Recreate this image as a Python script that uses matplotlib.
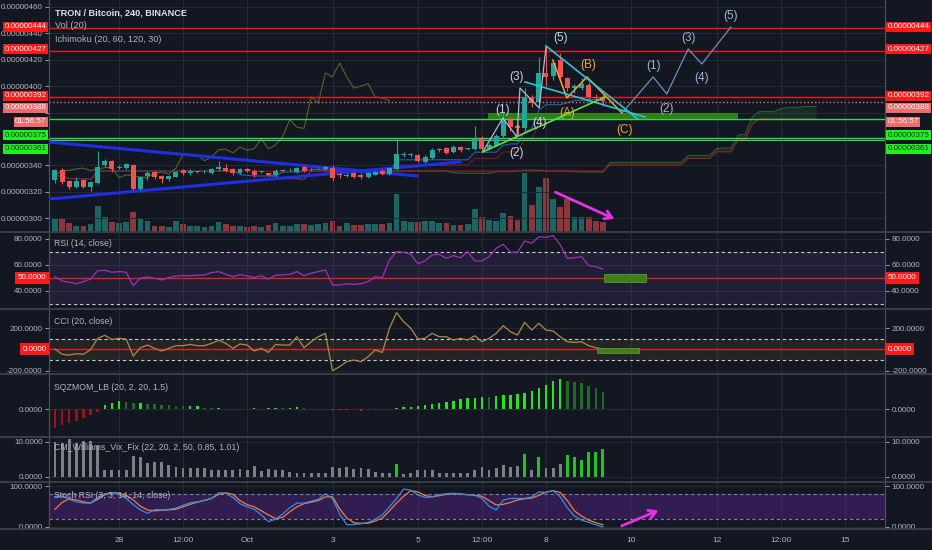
import numpy as np
import pandas as pd
import matplotlib
matplotlib.use("Agg")
import matplotlib.pyplot as plt
import matplotlib.dates as mdates
import matplotlib.transforms as mtransforms
from matplotlib.lines import Line2D
from matplotlib.patches import Rectangle

plt.rcParams['font.family'] = ['Liberation Sans', 'DejaVu Sans']

# ---- TRX/BTC 4h candles, prices in 1e-8 BTC (satoshi) ----
opens = [329, 336.5, 328, 324, 329, 323.5, 327, 340, 343, 338,
         338, 340, 322, 332, 335, 332, 329.5, 331.5, 336.5, 334,
         335, 335.5, 334, 337, 338, 337, 334, 337, 336, 335,
         334, 332.7, 336, 337, 335, 338.5, 337, 338, 337.5, 338,
         333, 332, 334, 333, 331, 333, 336, 333.5, 337, 348,
         348, 348, 342.5, 345.5, 351.5, 353, 350, 354, 352.5, 352.5,
         360, 352.5, 355, 362, 374.5, 369.5, 368.5, 391, 388, 410,
         408, 420, 406, 399, 399, 401, 392, 392]
highs = [337.5, 338, 329, 331, 330, 328.5, 351, 345, 344, 340,
         342, 341, 332, 336, 336, 333, 333, 336, 337.5, 337,
         336, 336.5, 338, 343, 341, 338, 338, 338, 337, 336,
         334.5, 337, 337, 338, 339, 339.5, 338, 339, 339.5, 340,
         334, 334, 335, 334, 335, 336, 337, 339, 360, 350,
         349.5, 349, 347.5, 353, 353.5, 354, 355.5, 355, 353.5, 370,
         362, 357, 364, 380, 377, 371, 398.6, 393, 422, 430,
         420, 425, 407, 402, 406, 403, 394, 393]
lows = [327, 326, 322, 323, 322.5, 320.5, 326, 339, 335, 337,
        337, 321, 321, 329, 330, 327, 328, 331, 333, 333,
        334, 334.5, 333.5, 336, 335, 333, 333.5, 335, 331, 334,
        332, 332, 335, 336, 334.5, 335, 336, 337, 336.5, 328.5,
        330.5, 331, 330.5, 330, 330.5, 332.5, 332.5, 333, 336.5, 346,
        346.5, 342.5, 342, 345, 350.5, 348.5, 349.5, 350.5, 351.5, 352,
        350, 352, 354.5, 361, 366, 362, 366, 384, 386, 400,
        405, 404, 396, 395, 397, 389, 389, 385]
closes = [336.5, 327.5, 324, 328, 323.5, 327.5, 339, 343, 337, 339,
          341, 322, 331, 334, 331, 329.5, 332, 335, 334, 336,
          335.2, 335.7, 337, 338.5, 336, 334, 337, 336, 332.7, 335.3,
          332.7, 336, 336.3, 337.3, 338, 336, 337.3, 338.3, 338.5, 330.7,
          332.8, 332.3, 331, 331, 334, 335, 333.5, 338, 348.5, 348.3,
          348.2, 343.5, 346.5, 351.7, 352.3, 349.5, 354, 351.5, 352.7, 360,
          352.5, 355.5, 362, 374.5, 369, 368, 392, 387.3, 410, 407,
          417.6, 407, 398.6, 400, 402, 392, 391, 389]
volume = [12, 13, 8, 5, 5, 7, 25, 14, 9, 8,
          9, 19, 12, 10, 5, 5, 4, 10, 7, 5,
          5, 4, 5, 9, 7, 5, 5, 4, 5, 4,
          6, 8, 5, 5, 7, 7, 6, 7, 8, 10,
          5, 8, 6, 6, 7, 7, 7, 8, 37, 10,
          9, 9, 10, 10, 8, 8, 6, 6, 7, 22,
          14, 11, 10, 18, 15, 11, 58, 26, 44, 53,
          32, 24, 32, 14, 14, 14, 10, 9]

# ---- oscillators, one value per candle ----
rsi = [51.0, 47.7, 46.7, 45.6, 47.2, 49.2, 55.6, 55.9, 54.4, 54.9,
       54.4, 44.1, 49.8, 50.8, 49.8, 48.5, 50.3, 51.5, 51.8, 51.8,
       52.1, 52.3, 54.1, 54.9, 52.8, 51.0, 52.6, 51.5, 50.3, 51.8,
       49.0, 52.1, 52.3, 52.8, 54.9, 51.8, 53.6, 54.9, 56.2, 44.6,
       44.6, 45.6, 45.1, 45.6, 47.2, 51.0, 50.3, 63.8, 70.3, 69.8,
       68.2, 61.0, 63.1, 67.7, 68.2, 65.1, 67.2, 65.6, 70.3, 63.1,
       63.1, 66.4, 72.8, 75.9, 69.8, 69.8, 78.5, 76.7, 81.8, 81.3,
       82.6, 75.4, 65.1, 65.6, 66.4, 59.5, 58.7, 56.9]
cci = [3, -47, -54, -41, -47, -4, 103, 131, 93, 103,
       96, -63, 15, 40, 9, -16, 9, 34, 34, 46,
       34, 34, 56, 84, 56, 9, 50, 40, -16, 9,
       -29, 46, 40, 40, 118, 15, 71, 118, 150, -201,
       -163, -116, -101, -116, -69, -7, -29, 197, 344, 259,
       197, 96, 103, 150, 118, 118, 87, 103, 87, 128,
       71, 103, 150, 222, 165, 134, 253, 181, 244, 181,
       172, 118, 71, 65, 71, 34, 15, 3]
sqzmom = [-58, -48, -41, -35, -28, -18, -8, 12, 19, 24,
          21, 17, 17, 15, 14, 12, 11, 10, 9, 9,
          9, 3, 2, 2, 1, 1, 1, 1, 2, 1,
          2, 3, 2, 3, 5, 2, 1, 1, -1, -2,
          -3, -4, -4, -5, -4, -3, -1, 1, 2, 5,
          7, 9, 12, 15, 19, 22, 25, 29, 32, 34,
          37, 35, 39, 42, 42, 44, 49, 55, 62, 72,
          85, 89, 85, 82, 77, 69, 62, 52]
vixfix = [10.0, 9.6, 10.7, 9.6, 10.2, 10.3, 8.7, 1.9, 1.9, 1.9,
          1.8, 6.0, 5.6, 3.8, 4.3, 4.1, 3.2, 2.7, 2.5, 2.5,
          2.5, 2.5, 2.0, 1.9, 1.9, 1.9, 2.2, 1.8, 3.1, 1.6,
          2.3, 2.0, 1.8, 1.3, 1.0, 0.9, 1.1, 1.0, 0.9, 2.7,
          2.5, 2.7, 2.3, 2.5, 2.3, 1.4, 0.9, 1.1, 3.6, 0.7,
          1.0, 1.8, 1.8, 1.9, 0.9, 1.0, 1.1, 0.9, 0.9, 2.0,
          2.7, 2.0, 2.5, 3.2, 2.7, 2.9, 6.5, 1.9, 5.6, 2.5,
          2.5, 3.6, 6.2, 5.6, 4.7, 6.9, 6.9, 7.8]
vix_signal = [False] * 48 + [True] + [False] * 17 + [True, False, True, False, False, False,
                                                      True, True, True, True, True, True]
stoch_k = [73.5, 75.8, 67.5, 61.4, 58.4, 58.4, 72.0, 81.1, 84.1, 79.6,
           69.7, 54.6, 41.7, 33.4, 42.5, 41.7, 43.2, 46.2, 53.1, 59.1,
           61.4, 64.4, 69.7, 83.4, 82.6, 72.0, 56.9, 49.3, 43.2, 29.6,
           12.9, 19.0, 31.9, 47.0, 58.4, 58.4, 62.9, 67.5, 81.1, 69.7,
           31.9, 5.3, 6.1, 7.6, 11.4, 19.0, 29.6, 49.3, 69.7, 92.5,
           90.2, 78.1, 72.0, 73.5, 78.8, 81.1, 82.6, 80.3, 78.8, 77.3,
           69.7, 50.8, 41.7, 66.0, 69.7, 69.7, 69.7, 73.5, 85.6, 84.1,
           88.7, 73.5, 47.0, 26.5, 16.7, 11.4, 5.3, 0.0]
stoch_d = [43.2, 59.9, 69.0, 66.0, 61.4, 58.4, 67.5, 78.8, 84.1, 82.6,
           77.3, 66.0, 50.8, 41.7, 39.4, 41.0, 41.7, 43.2, 49.3, 55.3,
           60.6, 65.2, 69.7, 79.6, 83.4, 79.6, 64.4, 54.6, 49.3, 39.4,
           29.6, 20.5, 23.5, 37.2, 49.3, 56.9, 60.6, 64.4, 73.5, 73.5,
           44.7, 22.0, 10.6, 9.1, 9.1, 14.4, 22.0, 39.4, 58.4, 75.0,
           88.7, 85.6, 76.6, 73.5, 76.6, 79.6, 81.1, 80.3, 78.8, 77.3,
           75.0, 64.4, 53.8, 55.3, 59.9, 66.0, 69.0, 70.5, 77.3, 84.9,
           88.7, 84.1, 64.4, 39.4, 26.5, 16.7, 10.6, 5.3]

# ---- drawn levels and annotations (days after 28 Sep, price) ----
levels = [444, 427, 392, 388, 375, 361]
level_colors = ['#f01818', '#f01818', '#f01818', '#f06a6a', '#39d353', '#39d353']
level_styles = ['-', '-', '-', ':', '-', '-']
label_y = [445.1, 428.0, 392.8, 383.7, 362.8, 352.6]
label_bg = ['#ff1a1a', '#ff1a1a', '#ff1a1a', '#f06a6a', '#22ee22', '#22ee22']
label_fg = ['white', 'white', 'white', 'white', '#0b3d0b', '#0b3d0b']
countdown = '01:56:57'
price_ticks = [300, 320, 340, 360, 380, 400, 420, 440, 460]
covered_ticks = [360, 380]   # hidden behind the level labels

tri_down_d, tri_down_p = [-1.64, 6.98], [357.7, 332.0]
tri_up_d, tri_up_p = [-1.64, 7.99], [314.5, 342.6]
wave_d = [8.52, 8.99, 9.32, 9.39, 9.84, 10.0]
wave_p = [350.2, 375.9, 361.5, 398.6, 383.5, 429.7]
wave_labels = ['(1)', '(2)', '(3)', '(4)', '(5)']
wave_lab_d = [8.99, 9.32, 9.32, 9.84, 10.33]
wave_lab_p = [382, 349.4, 407, 372, 436.5]
abc_d = [10.16, 10.49, 10.96, 11.78]
abc_p = [419.8, 391.1, 407.0, 379.7]
abc_labels = ['(A)', '(B)', '(C)']
abc_lab_d = [10.49, 10.98, 11.83]
abc_lab_p = [379.7, 416.0, 366.8]
proj_d = [11.78, 12.51, 12.83, 13.33, 13.65, 14.33]
proj_p = [379.7, 407.0, 394.1, 428.2, 416.8, 444.8]
proj_lab_d = [12.51, 12.83, 13.33, 13.65, 14.33]
proj_lab_p = [415.3, 382.7, 436.5, 406.2, 453.2]
wedge_up_d, wedge_up_p = [10.0, 12.15], [430.5, 375.2]
wedge_lo_d, wedge_lo_p = [9.51, 12.32], [403.2, 376.7]
support_d, support_p = [8.52, 11.38], [350.2, 391.8]
zone_main = (8.64, 14.47, 376, 380)
zone_rsi = (11.36, 12.34, 47, 53)
zone_cci = (11.19, 12.18, -35, 12)
arrow_vol = ((10.16, 320.6), (11.66, 298.6))
arrow_stoch = ((11.71, 0), (12.69, 43))

tick_days = [0, 1.5, 3, 5, 7, 8.5, 10, 12, 14, 15.5, 17]
tick_labels = ['28', '12:00', 'Oct', '3', '5', '12:00', '8', '10', '12', '12:00', '15']

# ---- time axis ----
n = len(closes)
shift = 30
times = pd.date_range('2018-09-26 12:00', periods=n + shift, freq='4h')
xs = mdates.date2num(times)
x = xs[:n]
day0 = mdates.date2num(pd.Timestamp('2018-09-28'))
bar_w = 1 / 6

o, h, l, c = map(np.array, (opens, highs, lows, closes))
up = c >= o
UP, DN = '#26a69a', '#ef5350'
candle_col = np.where(up, UP, DN)

# ichimoku (20, 60, 120, 30)
hs, ls = pd.Series(highs), pd.Series(lows)
tenkan = (hs.rolling(20, min_periods=1).max() + ls.rolling(20, min_periods=1).min()) / 2
kijun = (hs.rolling(60, min_periods=1).max() + ls.rolling(60, min_periods=1).min()) / 2
span_a = ((tenkan + kijun) / 2).values
span_b = ((hs.rolling(120, min_periods=1).max() + ls.rolling(120, min_periods=1).min()) / 2).values

BG = '#131722'
GRID = '#262a35'
TXT = '#b2b5be'
W, H = 932, 550

fig = plt.figure(figsize=(W / 100, H / 100), dpi=100, facecolor=BG)


def panel(top, bottom, sharex=None):
    a = fig.add_axes([49 / W, 1 - bottom / H, 836 / W, (bottom - top) / H], sharex=sharex)
    a.set_facecolor(BG)
    for s in ('top', 'bottom'):
        a.spines[s].set_visible(False)
    for s in ('left', 'right'):
        a.spines[s].set_color('#50535e')
        a.spines[s].set_linewidth(0.8)
    a.tick_params(axis='y', left=True, right=True, labelleft=True, labelright=True,
                  labelsize=5.8, colors=TXT, length=3, width=0.6, pad=1.5)
    a.tick_params(axis='x', length=0, labelbottom=False)
    a.grid(True, color=GRID, lw=0.7)
    a.set_axisbelow(True)
    return a


ax = panel(0, 231)
ax_rsi = panel(233, 308, ax)
ax_cci = panel(310, 372, ax)
ax_sqz = panel(375, 436, ax)
ax_vix = panel(438, 481, ax)
ax_sto = panel(482, 529, ax)

ax.set_xlim(day0 - 1.64, day0 + 17.94)
ax.set_xticks([day0 + d for d in tick_days])
ax_sto.set_xticklabels(tick_labels)
ax_sto.tick_params(axis='x', labelbottom=True, labelsize=6, colors=TXT, pad=6)

# ---- main price panel ----
ax.set_ylim(290.3, 465.3)
ax.set_yticks(price_ticks)
ax.yaxis.set_major_formatter(lambda v, p: '' if round(v) in covered_ticks else f'{v * 1e-8:.8f}')

axv = ax.twinx()
axv.set_ylim(0, 231)
axv.set_yticks([])
for s in axv.spines.values():
    s.set_visible(False)
axv.bar(x, volume, width=bar_w * 0.8, color=candle_col, alpha=0.55)
ax.set_zorder(axv.get_zorder() + 1)
ax.patch.set_visible(False)
axv.patch.set_facecolor(BG)

# cloud
xa = xs[shift:shift + n]
ax.fill_between(xa, span_a, span_b, where=span_a >= span_b, interpolate=True,
                color='#2e7d32', alpha=0.22, lw=0)
ax.fill_between(xa, span_a, span_b, where=span_a < span_b, interpolate=True,
                color='#c62828', alpha=0.15, lw=0)
ax.plot(xa, span_a, color='#2e7d32', lw=0.8, alpha=0.7)
ax.plot(xa, span_b, color='#b71c1c', lw=0.8, alpha=0.8)
ax.plot(x, tenkan, color='#2f6fd6', lw=0.8, alpha=0.8)
ax.plot(x, kijun, color='#8b1a1a', lw=0.8, alpha=0.9)
ax.plot(x[:n - shift], c[shift:], color='#5b6f2a', lw=0.8, alpha=0.9)

# price levels
for lv, col, ls_ in zip(levels, level_colors, level_styles):
    ax.axhline(lv, color=col, lw=1.0, ls=ls_, zorder=2)
ax.axhline(levels[-1] - 1.5, color=level_colors[-1], lw=0.8, zorder=2)
z = zone_main
ax.add_patch(Rectangle((day0 + z[0], z[2]), z[1] - z[0], z[3] - z[2],
                       fc='#2e7d16', ec='#3c8c20', lw=0.6, zorder=2))

# trend lines
ax.plot([day0 + d for d in tri_down_d], tri_down_p, color='#1f2ee0', lw=2.2, zorder=3)
ax.plot([day0 + d for d in tri_up_d], tri_up_p, color='#1f2ee0', lw=2.2, zorder=3)

# candles
ax.vlines(x, l, h, colors=candle_col, lw=0.8, zorder=4)
ax.bar(x, np.maximum(np.abs(c - o), 0.4), bottom=np.minimum(o, c), width=bar_w * 0.7,
       color=candle_col, zorder=5)

# wave drawings
dd = lambda arr: [day0 + v for v in arr]
ax.plot(dd(wave_d), wave_p, color='#a9bcd6', lw=0.9, zorder=6)
ax.plot(dd(abc_d), abc_p, color='#f5a524', lw=1.1, zorder=6)
ax.plot(dd(proj_d), proj_p, color='#6e8fb8', lw=0.9, zorder=6)
ax.plot(dd(wedge_up_d), wedge_up_p, color='#2ec4d8', lw=1.2, zorder=6)
ax.plot(dd(wedge_lo_d), wedge_lo_p, color='#2ec4d8', lw=1.2, zorder=6)
ax.plot(dd(support_d), support_p, color='#5ee03a', lw=1.2, zorder=6)
for t, d, p in zip(wave_labels, wave_lab_d, wave_lab_p):
    ax.text(day0 + d, p, t, color='#c3d2e6', fontsize=8.5, ha='center', va='center', zorder=7)
for t, d, p in zip(abc_labels, abc_lab_d, abc_lab_p):
    ax.text(day0 + d, p, t, color='#f5a524', fontsize=8.5, ha='center', va='center', zorder=7)
for t, d, p in zip(wave_labels, proj_lab_d, proj_lab_p):
    ax.text(day0 + d, p, t, color='#9db6d6', fontsize=8.5, ha='center', va='center', zorder=7)
(s0, s1) = arrow_vol
ax.annotate('', xy=(day0 + s1[0], s1[1]), xytext=(day0 + s0[0], s0[1]),
            arrowprops=dict(arrowstyle='->,head_length=0.5,head_width=0.3', color='#e532e5', lw=2),
            zorder=8)

# price labels on both axes
blend = mtransforms.blended_transform_factory(ax.transAxes, ax.transData)
for lv, ly, bg, fg in zip(levels, label_y, label_bg, label_fg):
    txt = f'{lv * 1e-8:.8f}'
    for xa_, ha in ((-0.003, 'right'), (1.003, 'left')):
        ax.text(xa_, ly, txt, transform=blend, ha=ha, va='center', fontsize=5.8, color=fg,
                bbox=dict(boxstyle='square,pad=0.2', fc=bg, ec='none'), clip_on=False, zorder=20)
for xa_, ha in ((-0.003, 'right'), (1.003, 'left')):
    ax.text(xa_, 372.9, countdown, transform=blend, ha=ha, va='center', fontsize=5.8,
            color='white', bbox=dict(boxstyle='square,pad=0.2', fc='#ef6c6c', ec='none'),
            clip_on=False, zorder=19)

# ---- RSI ----
ax_rsi.set_ylim(26.9, 84.6)
ax_rsi.set_yticks([40, 60, 80])
ax_rsi.yaxis.set_major_formatter(lambda v, p: f'{v:.4f}')
ax_rsi.axhspan(30, 70, color='#7e57c2', alpha=0.13, lw=0)
for lv in (30, 70):
    ax_rsi.axhline(lv, color='#c9c9c9', lw=0.8, ls=(0, (3, 2.5)))
ax_rsi.axhline(50, color='#e02020', lw=1)
ax_rsi.plot(x, rsi, color='#a230b8', lw=0.9)
z = zone_rsi
ax_rsi.add_patch(Rectangle((day0 + z[0], z[2]), z[1] - z[0], z[3] - z[2],
                           fc='#3f7d1a', ec='#5a9a2a', lw=0.6, zorder=4))

# ---- CCI ----
ax_cci.set_ylim(-213, 369)
ax_cci.set_yticks([-200, 200])
ax_cci.yaxis.set_major_formatter(lambda v, p: f'{v:.4f}')
ax_cci.axhspan(-100, 100, color='#8d6e3a', alpha=0.14, lw=0)
for lv in (-100, 100):
    ax_cci.axhline(lv, color='#c9c9c9', lw=0.8, ls=(0, (3, 2.5)))
ax_cci.axhline(0, color='#e02020', lw=1)
ax_cci.plot(x, cci, color='#b08a45', lw=0.9)
z = zone_cci
ax_cci.add_patch(Rectangle((day0 + z[0], z[2]), z[1] - z[0], z[3] - z[2],
                           fc='#3f7d1a', ec='#5a9a2a', lw=0.6, zorder=4))

# red value boxes for RSI / CCI
for a, val in ((ax_rsi, 50), (ax_cci, 0)):
    bl = mtransforms.blended_transform_factory(a.transAxes, a.transData)
    for xa_, ha in ((-0.003, 'right'), (1.003, 'left')):
        a.text(xa_, val, f'{val:.4f}', transform=bl, ha=ha, va='center', fontsize=5.8,
               color='white', bbox=dict(boxstyle='square,pad=0.3', fc='#ff1a1a', ec='none'),
               clip_on=False, zorder=20)

# ---- squeeze momentum ----
ax_sqz.set_ylim(-81, 102)
ax_sqz.set_yticks([0])
ax_sqz.yaxis.set_major_formatter(lambda v, p: f'{v:.4f}')
sq = np.array(sqzmom)
prev = np.r_[sq[0], sq[:-1]]
sq_col = np.where(sq >= 0, np.where(sq >= prev, '#22e622', '#1f6b25'),
                  np.where(sq < prev, '#e01515', '#a01212'))
ax_sqz.bar(x, sq, width=bar_w * 0.35, color=sq_col)
ax_sqz.axhline(0, color='#3a3e48', lw=0.8, zorder=0)

# ---- Williams Vix Fix ----
ax_vix.set_ylim(-1.29, 11.06)
ax_vix.set_yticks([0, 10])
ax_vix.yaxis.set_major_formatter(lambda v, p: f'{v:.4f}')
vix_col = np.where(vix_signal, '#21c421', '#7d7f86')
ax_vix.bar(x, vixfix, width=bar_w * 0.4, color=vix_col)

# ---- Stoch RSI ----
ax_sto.set_ylim(-4.9, 109.8)
ax_sto.set_yticks([0, 100])
ax_sto.yaxis.set_major_formatter(lambda v, p: f'{v:.4f}')
ax_sto.axhspan(20, 80, color='#7b2cbf', alpha=0.3, lw=0)
for lv in (20, 80):
    ax_sto.axhline(lv, color='#8a7aa8', lw=0.8, ls=(0, (3, 2.5)))
ax_sto.plot(x, stoch_d, color='#f57c3a', lw=0.9)
ax_sto.plot(x, stoch_k, color='#2f8fe8', lw=0.9)
(s0, s1) = arrow_stoch
ax_sto.annotate('', xy=(day0 + s1[0], s1[1]), xytext=(day0 + s0[0], s0[1]),
                arrowprops=dict(arrowstyle='->,head_length=0.5,head_width=0.3', color='#e532e5', lw=2))

# ---- titles ----
fig.text(55 / W, 1 - 13 / H, 'TRON / Bitcoin, 240, BINANCE', color='#e0e3eb', fontsize=6.6,
         va='center', weight='semibold')
fig.text(55 / W, 1 - 26 / H, 'Vol (20)', color=TXT, fontsize=6.6, va='center')
fig.text(55 / W, 1 - 40 / H, 'Ichimoku (20, 60, 120, 30)', color=TXT, fontsize=6.6, va='center')
for ty, t in ((243, 'RSI (14, close)'), (322, 'CCI (20, close)'), (388, 'SQZMOM_LB (20, 2, 20, 1.5)'),
              (448, 'CM_Williams_Vix_Fix (22, 20, 2, 50, 0.85, 1.01)'),
              (495, 'Stoch RSI (3, 3, 14, 14, close)')):
    fig.text(54 / W, 1 - ty / H, t, color=TXT, fontsize=6.3, va='center')

# pane separators
for yy in (232, 309, 373.5, 437, 481.5, 529):
    fig.add_artist(Line2D([0, 1], [1 - yy / H, 1 - yy / H], color='#3d414c', lw=1.3))

fig.savefig('out.png', dpi=100, facecolor=BG)
